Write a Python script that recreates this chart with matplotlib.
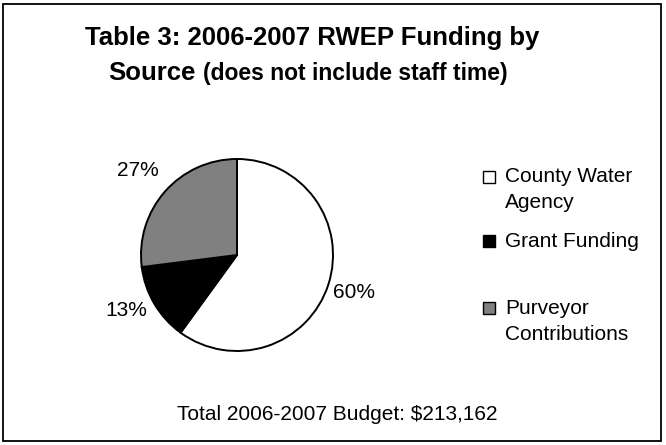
import matplotlib
matplotlib.use("Agg")
import matplotlib.pyplot as plt
from matplotlib.patches import Rectangle

plt.rcParams['font.family'] = ['Liberation Sans', 'DejaVu Sans']

categories = ["County Water\nAgency", "Grant Funding", "Purveyor\nContributions"]
shares = [60, 13, 27]
pct_labels = ["60%", "13%", "27%"]
colors = ["#ffffff", "#000000", "#808080"]
title_line1 = "Table 3: 2006-2007 RWEP Funding by"
title_line2a = "Source"
title_line2b = "(does not include staff time)"
footer = "Total 2006-2007 Budget: $213,162"

W, H = 666, 445
fig = plt.figure(figsize=(W/100, H/100), dpi=100)
fig.patch.set_facecolor("white")

def fx(x):
    return x / W

def fy(y):
    return 1 - y / H

# outer frame
fig.add_artist(Rectangle((fx(3), fy(441)), (661-3)/W, (441-4)/H, transform=fig.transFigure,
                         fill=False, edgecolor="black", linewidth=1.3))

# pie axes: center ~ (237, 255) px, radius ~96 px
r = 96
cx, cy = 237, 255
ax = fig.add_axes([fx(cx - r), fy(cy + r), 2*r/W, 2*r/H])
ax.pie(shares, colors=colors, startangle=90, counterclock=False,
       wedgeprops=dict(edgecolor="black", linewidth=1.4))
ax.set_xlim(-1, 1); ax.set_ylim(-1, 1)
ax.set_aspect('auto')
ax.axis('off')

label_pos = [(354, 293), (126, 310), (138, 170)]
for lab, (x, y) in zip(pct_labels, label_pos):
    fig.text(fx(x), fy(y), lab, fontsize=15, ha="center", va="center")

fig.text(fx(312), fy(45), title_line1, fontsize=18.5, fontweight="bold", ha="center", va="baseline")
fig.text(fx(108), fy(80), title_line2a, fontsize=18.5, fontweight="bold", ha="left", va="baseline")
fig.text(fx(203), fy(80), title_line2b, fontsize=16.5, fontweight="bold", ha="left", va="baseline")

# legend: (square top, first-line baseline)
leg_items = [(171, 182), (235, 247), (302, 314)]
for (ysq, ybase), cat, col in zip(leg_items, categories, colors):
    fig.add_artist(Rectangle((fx(483), fy(ysq + 12)), 12/W, 12/H, transform=fig.transFigure,
                             facecolor=col, edgecolor="black", linewidth=1.0))
    lines = cat.split("\n")
    for i, ln in enumerate(lines):
        fig.text(fx(505), fy(ybase + 26*i), ln, fontsize=15, ha="left", va="baseline")

fig.text(fx(337), fy(420), footer, fontsize=15, ha="center", va="baseline")

fig.savefig("out.png", dpi=100)
